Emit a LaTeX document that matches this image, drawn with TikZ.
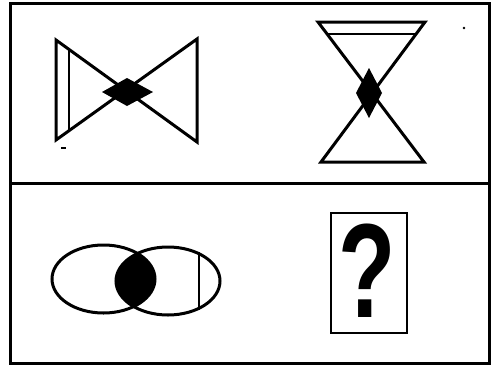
\documentclass[tikz,border=0pt]{standalone}
\usepackage{fontspec}
\setmainfont{Liberation Sans}
\begin{document}
\begin{tikzpicture}[x=1pt,y=-1pt,
  frameline/.style={line width=3pt},
  shapeline/.style={line width=3pt, line join=miter},
  thinline/.style={line width=2pt},
  blackfill/.style={fill=black, draw=none}]
\useasboundingbox (0,0) rectangle (494,367);
% frame
\draw[frameline] (10,3) rectangle (489,363);
\coordinate (divL) at (10,183);
\coordinate (divR) at (489,183);
\draw[frameline] (divL) -- (divR);
% bowtie
\coordinate (b1) at (56,40);
\coordinate (b2) at (56,140);
\coordinate (b3) at (197,142);
\coordinate (b4) at (197,39);
\draw[shapeline] (b1) -- (b3) -- (b4) -- (b2) -- cycle;
\draw[thinline] (69,49.2) -- (69,130.2);
\fill[blackfill] (102,92) -- (127,78) -- (153,92) -- (127,106) -- cycle;
% hourglass
\coordinate (h1) at (318,22);
\coordinate (h2) at (425,22);
\coordinate (h3) at (321,162);
\coordinate (h4) at (424,162);
\draw[shapeline] (h1) -- (h2) -- (h3) -- (h4) -- cycle;
\draw[thinline] (327,34) -- (416,34);
\fill[blackfill] (369,68) -- (382,93) -- (369,118) -- (356,93) -- cycle;
% ellipses
\begin{scope}
\clip (103.5,279) ellipse [x radius=51.5, y radius=34];
\fill[blackfill] (168,281) ellipse [x radius=52, y radius=34];
\end{scope}
\draw[shapeline] (103.5,279) ellipse [x radius=51.5, y radius=34];
\draw[shapeline] (168,281) ellipse [x radius=52, y radius=34];
\draw[thinline] (199,252) -- (199,310);
% question box
\node[draw, line width=2.6pt, minimum width=76pt, minimum height=120pt, inner sep=0pt] (qbox) at (369,273) {};
\node[inner sep=0pt, xscale=0.7] (qmark) at (367,271) {\fontsize{134}{138}\selectfont\bfseries ?};
% specks
\fill (464,28) circle [radius=1.4];
\fill (61,147) rectangle (66,149);
\end{tikzpicture}
\end{document}
